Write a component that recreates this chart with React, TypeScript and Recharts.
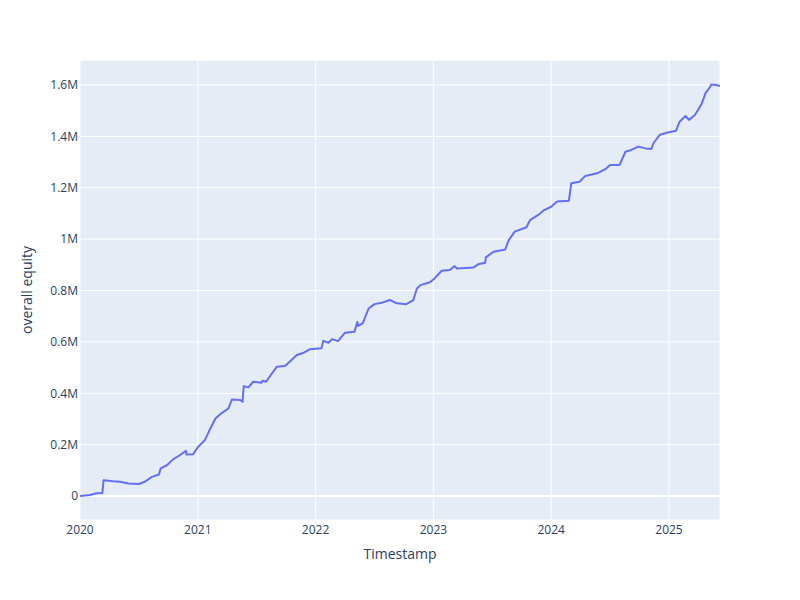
import React from 'react';
import { LineChart, Line, XAxis, YAxis, CartesianGrid, ReferenceLine, Label } from 'recharts';

// fractional year of each timestamp
const years = [
  2020.0, 2020.085, 2020.14, 2020.19, 2020.2, 2020.28, 2020.34, 2020.41, 2020.5, 2020.55,
  2020.61, 2020.67, 2020.685, 2020.74, 2020.79, 2020.85, 2020.9, 2020.905, 2020.96, 2021.0,
  2021.06, 2021.1, 2021.15, 2021.2, 2021.26, 2021.29, 2021.36, 2021.38, 2021.39, 2021.43,
  2021.47, 2021.54, 2021.55, 2021.58, 2021.63, 2021.67, 2021.74, 2021.78, 2021.84, 2021.9,
  2021.95, 2022.05, 2022.065, 2022.11, 2022.14, 2022.19, 2022.25, 2022.33, 2022.355, 2022.36,
  2022.4, 2022.45, 2022.5, 2022.56, 2022.63, 2022.69, 2022.77, 2022.83, 2022.86, 2022.89,
  2022.97, 2023.01, 2023.07, 2023.14, 2023.18, 2023.2, 2023.34, 2023.38, 2023.44, 2023.445,
  2023.51, 2023.61, 2023.64, 2023.69, 2023.79, 2023.82, 2023.89, 2023.94, 2024.0, 2024.05,
  2024.15, 2024.17, 2024.24, 2024.29, 2024.39, 2024.46, 2024.5, 2024.58, 2024.63, 2024.68,
  2024.74, 2024.8, 2024.85, 2024.87, 2024.92, 2024.98, 2025.06, 2025.09, 2025.14, 2025.17,
  2025.22, 2025.25, 2025.28, 2025.31, 2025.35, 2025.36, 2025.4, 2025.433,
];

// overall equity in dollars
const equity = [
  0, 4000, 11000, 12000, 62000, 58000, 56000, 49000, 47000, 56000,
  75000, 84000, 108000, 121000, 143000, 160000, 176000, 162000, 163000, 190000,
  218000, 257000, 302000, 322000, 341000, 376000, 374000, 367000, 428000, 423000,
  445000, 441000, 449000, 445000, 478000, 503000, 506000, 523000, 549000, 558000,
  571000, 575000, 604000, 597000, 611000, 603000, 636000, 640000, 678000, 662000,
  672000, 730000, 747000, 752000, 763000, 750000, 747000, 763000, 808000, 821000,
  832000, 847000, 877000, 880000, 895000, 886000, 890000, 902000, 908000, 929000,
  951000, 960000, 996000, 1029000, 1046000, 1074000, 1094000, 1113000, 1126000, 1146000,
  1149000, 1217000, 1223000, 1246000, 1256000, 1272000, 1288000, 1288000, 1340000, 1347000,
  1360000, 1353000, 1351000, 1375000, 1405000, 1414000, 1422000, 1457000, 1479000, 1464000,
  1483000, 1505000, 1529000, 1568000, 1593000, 1602000, 1600000, 1596000,
];

const xTicks = [2020, 2021, 2022, 2023, 2024, 2025];
const yTicks = [0, 200000, 400000, 600000, 800000, 1000000, 1200000, 1400000, 1600000];

const data = years.map((t, i) => ({ t, v: equity[i] }));

const fmtY = (v: number) => (v === 0 ? '0' : `${+(v / 1e6).toFixed(1)}M`);

const FONT = '"Open Sans", verdana, arial, sans-serif';
const TXT = '#2a3f5f';

export default function App() {
  return (
    <div style={{ position: 'absolute', left: 0, top: 0, width: 800, height: 600, background: '#fff' }}>
      <LineChart width={800} height={600} data={data} margin={{ top: 60, right: 80, bottom: 0, left: 0 }}>
        <CartesianGrid fill="#E5ECF6" stroke="#ffffff" strokeWidth={1} />
        <XAxis
          dataKey="t"
          type="number"
          domain={[2020, 2025.433]}
          ticks={xTicks}
          allowDataOverflow
          height={80}
          tickLine={false}
          axisLine={false}
          tickSize={0}
          tickMargin={5}
          tick={{ fill: TXT, fontSize: 12, fontFamily: FONT }}
          tickFormatter={(v: number) => String(Math.round(v))}
        >
          <Label
            content={() => (
              <text x={400} y={559} textAnchor="middle" fill={TXT} fontSize={14} fontFamily={FONT}>
                Timestamp
              </text>
            )}
          />
        </XAxis>
        <YAxis
          type="number"
          domain={[-93000, 1697000]}
          ticks={yTicks}
          allowDataOverflow
          width={80}
          tickLine={false}
          axisLine={false}
          tickSize={0}
          tickMargin={2}
          tick={{ fill: TXT, fontSize: 12, fontFamily: FONT }}
          tickFormatter={fmtY}
        >
          <Label
            content={() => (
              <text
                x={32}
                y={290}
                transform="rotate(-90,32,290)"
                textAnchor="middle"
                fill={TXT}
                fontSize={14}
                fontFamily={FONT}
              >
                overall equity
              </text>
            )}
          />
        </YAxis>
        <ReferenceLine y={0} stroke="#ffffff" strokeWidth={2} />
        <Line
          type="linear"
          dataKey="v"
          stroke="#636efa"
          strokeWidth={2}
          strokeLinejoin="round"
          dot={false}
          isAnimationActive={false}
        />
      </LineChart>
    </div>
  );
}
